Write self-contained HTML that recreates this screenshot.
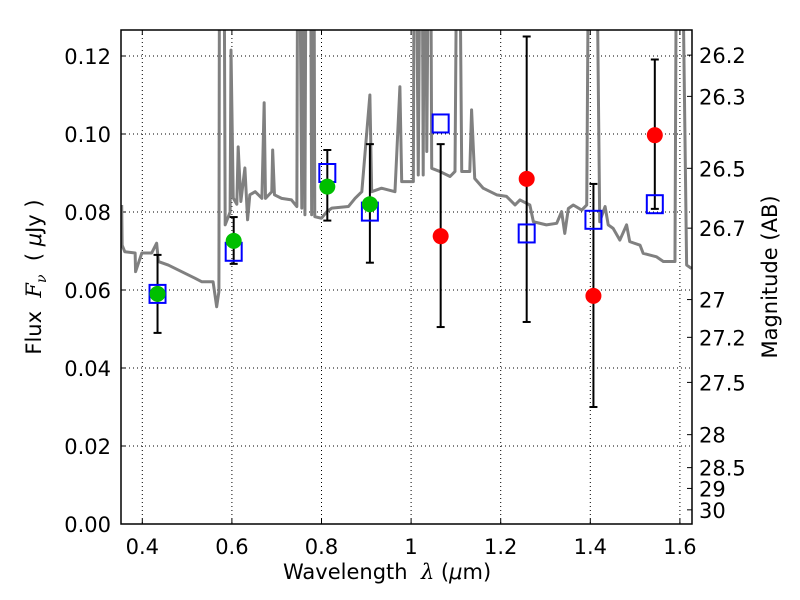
<!DOCTYPE html>
<html><head><meta charset="utf-8"><style>body{margin:0;background:#fff;overflow:hidden}svg text{font-family:"DejaVu Sans","Liberation Sans",sans-serif}</style></head>
<body>
<svg id="c" width="800" height="600" xmlns="http://www.w3.org/2000/svg" style="position:absolute;left:0;top:0"></svg>
<script>
const specLam=[0.354,0.355,0.361,0.384,0.385,0.399,0.421,0.432,0.436,0.458,0.488,0.518,0.533,0.558,0.566,0.571,0.573,0.581,0.585,0.596,0.598,0.603,0.611,0.614,0.620,0.629,0.635,0.640,0.652,0.667,0.672,0.675,0.689,0.691,0.695,0.711,0.733,0.745,0.748,0.756,0.759,0.763,0.767,0.774,0.778,0.782,0.785,0.800,0.812,0.823,0.860,0.875,0.890,0.908,0.912,0.934,0.964,0.975,0.979,1.005,1.008,1.016,1.023,1.027,1.031,1.035,1.042,1.046,1.064,1.087,1.098,1.105,1.113,1.131,1.135,1.142,1.161,1.191,1.213,1.232,1.243,1.265,1.273,1.302,1.325,1.336,1.343,1.351,1.362,1.381,1.392,1.399,1.410,1.421,1.433,1.440,1.451,1.466,1.481,1.488,1.511,1.518,1.548,1.563,1.589,1.594,1.600,1.615,1.626];
const specFlux=[0.0818,0.0715,0.0698,0.0695,0.0647,0.0695,0.0695,0.072,0.0673,0.0664,0.0647,0.063,0.0621,0.0621,0.0557,0.0596,0.2,0.2,0.0767,0.080,0.1215,0.0836,0.082,0.0967,0.0827,0.0913,0.078,0.0844,0.0852,0.0835,0.108,0.0835,0.0852,0.0959,0.0844,0.0835,0.0831,0.0814,0.2,0.081,0.2,0.0793,0.2,0.2,0.0793,0.2,0.0788,0.0784,0.0801,0.081,0.0814,0.0835,0.0852,0.110,0.0852,0.0861,0.0852,0.1121,0.0878,0.0878,0.2,0.0895,0.2,0.0895,0.2,0.0955,0.2,0.0912,0.0904,0.0891,0.0904,0.2,0.0904,0.0904,0.1062,0.0886,0.0861,0.0844,0.084,0.0818,0.0831,0.0818,0.0775,0.0767,0.0771,0.0801,0.0745,0.0809,0.0818,0.0805,0.0818,0.2,0.2,0.0775,0.0814,0.0767,0.0758,0.0728,0.0767,0.0724,0.0715,0.0694,0.0685,0.0673,0.0673,0.2,0.2,0.0664,0.0655];
const circLam=[0.434,0.604,0.813,0.908];
const circFlux=[0.059,0.0726,0.0865,0.082];
const redLam=[1.066,1.258,1.407,1.544];
const redFlux=[0.0738,0.0885,0.0585,0.0997];
const sqLam=[0.434,0.604,0.813,0.908,1.066,1.258,1.407,1.544];
const sqFlux=[0.059,0.0698,0.090,0.0801,0.1027,0.0745,0.078,0.082];
const errLam=[0.434,0.604,0.813,0.908,1.066,1.258,1.407,1.544];
const errLo=[0.049,0.0667,0.0778,0.067,0.0505,0.0518,0.030,0.0808];
const errHi=[0.069,0.0787,0.0959,0.0974,0.0974,0.125,0.0872,0.1191];
const xTicks=[0.4,0.6,0.8,1.0,1.2,1.4,1.6];
const xTickLabels=["0.4","0.6","0.8","1","1.2","1.4","1.6"];
const yTicks=[0,0.02,0.04,0.06,0.08,0.10,0.12];
const yTickLabels=["0.00","0.02","0.04","0.06","0.08","0.10","0.12"];
const magTicks=[26.2,26.3,26.5,26.7,27,27.2,27.5,28,28.5,29,30];

const L=121,R=692,T=30,B=524;
const X=v=>142.3+(v-0.4)*448;
const Y=v=>524-v*3900;
const NS="http://www.w3.org/2000/svg";
const svg=document.getElementById('c');
function mk(t,a,p){const e=document.createElementNS(NS,t);for(const k in a)e.setAttribute(k,a[k]);(p||svg).appendChild(e);return e;}
const cp=mk('clipPath',{id:'cp'});mk('rect',{x:L,y:T,width:R-L,height:B-T},cp);
xTicks.forEach((v,i)=>{
 const g=mk('line',{x1:X(v),x2:X(v),y1:T,y2:B,stroke:'#000','stroke-width':1,'stroke-dasharray':'1,3'});
 
 
 const t=mk('text',{x:X(v),y:554,'font-size':21,'text-anchor':'middle'});t.textContent=xTickLabels[i];
 
 
 mk('line',{x1:X(v),x2:X(v),y1:B,y2:B-5,stroke:'#000'});
 mk('line',{x1:X(v),x2:X(v),y1:T,y2:T+5,stroke:'#000'});
});
yTicks.forEach((v,i)=>{
 const g=mk('line',{x1:L,x2:R,y1:Y(v),y2:Y(v),stroke:'#000','stroke-width':1,'stroke-dasharray':'1,3'});
 
 
 const t=mk('text',{x:111,y:Y(v)+8,'font-size':21,'text-anchor':'end'});t.textContent=yTickLabels[i];
 
 
 mk('line',{x1:L,x2:L+5,y1:Y(v),y2:Y(v),stroke:'#000'});
});
magTicks.forEach(m=>{
 const f=Math.pow(10,(23.9-m)/2.5);const y=Y(f);
 mk('line',{x1:R,x2:R-5,y1:y,y2:y,stroke:'#000'});
 const t=mk('text',{x:699,y:y+8,'font-size':21});t.textContent=String(m);
 
 
});
const g=mk('g',{'clip-path':'url(#cp)'});
const sp=mk('polyline',{points:specLam.map((l,i)=>X(l)+','+Y(specFlux[i])).join(' '),fill:'none',stroke:'#808080','stroke-width':3,'stroke-linejoin':'round'},g);


errLam.forEach((l,i)=>{
 const e=mk('g',{stroke:'#000','stroke-width':2},g);
 
 
 mk('line',{x1:X(l),x2:X(l),y1:Y(errLo[i]),y2:Y(errHi[i])},e);
 mk('line',{x1:X(l)-4,x2:X(l)+4,y1:Y(errLo[i]),y2:Y(errLo[i])},e);
 mk('line',{x1:X(l)-4,x2:X(l)+4,y1:Y(errHi[i]),y2:Y(errHi[i])},e);
});
sqLam.forEach((l,i)=>{
 const s=mk('rect',{x:X(l)-8,y:Y(sqFlux[i])-9,width:16,height:18,fill:'none',stroke:'#0000ff','stroke-width':2},g);
 
 
});
circLam.forEach((l,i)=>{
 const c=mk('circle',{cx:X(l),cy:Y(circFlux[i]),r:8,fill:'#00bf00'},g);
 
 
});
redLam.forEach((l,i)=>{
 const c=mk('circle',{cx:X(l),cy:Y(redFlux[i]),r:8,fill:'#ff0000'},g);
 
 
});
const fr=mk('rect',{x:L,y:T,width:R-L,height:B-T,fill:'none',stroke:'#000','stroke-width':1.5});


</script>
<div style="position:absolute;left:0;top:0;width:800px;height:600px;pointer-events:none">
<div style="position:absolute;left:283px;top:560px;font:21px 'DejaVu Sans',sans-serif;white-space:nowrap">Wavelength &nbsp;<i style="font-family:'DejaVu Serif',serif">λ</i> (<i>μ</i>m)</div>
<div style="position:absolute;left:36px;top:277px;transform:translate(-50%,-50%) rotate(-90deg);white-space:nowrap;font:21px 'DejaVu Sans',sans-serif">Flux &nbsp;<i style="font-family:'DejaVu Serif',serif">F<sub style="font-size:14px">ν</sub></i> &nbsp;( <i>μ</i>Jy )</div>
<div style="position:absolute;left:770px;top:277px;transform:translate(-50%,-50%) rotate(-90deg);white-space:nowrap;font:21px 'DejaVu Sans',sans-serif">Magnitude (AB)</div>
</div>
</body></html>
